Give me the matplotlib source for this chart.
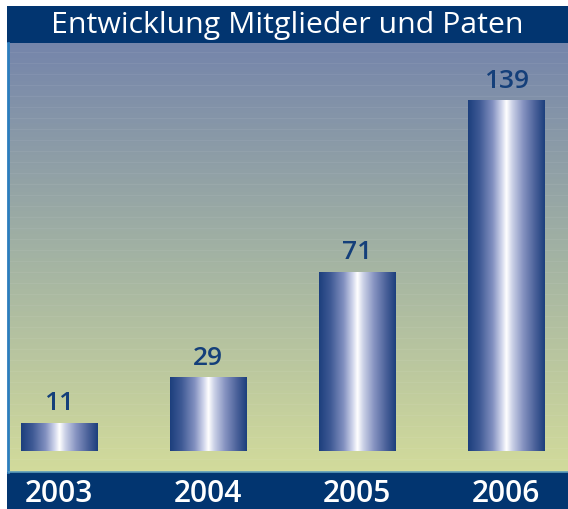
import matplotlib.pyplot as plt
import numpy as np
from matplotlib.colors import LinearSegmentedColormap
from matplotlib.patches import Rectangle
from matplotlib.transforms import blended_transform_factory

years = ['2003', '2004', '2005', '2006']
members = [11, 29, 71, 139]
title = 'Entwicklung Mitglieder und Paten'

navy = '#023570'
label_blue = '#143f7a'

plt.rcParams['font.family'] = ['Open Sans', 'DejaVu Sans']

W, H = 568, 510
fig = plt.figure(figsize=(W / 100, H / 100), dpi=100)
fig.patch.set_facecolor('white')

# title band and bottom band (pixel boxes converted to figure fractions)
fig.patches.append(Rectangle((7 / W, (H - 44) / H), 1, 37 / H, transform=fig.transFigure,
                             facecolor=navy, edgecolor='none', zorder=-1))
fig.patches.append(Rectangle((7 / W, 0), 1, 37 / H, transform=fig.transFigure,
                             facecolor=navy, edgecolor='none', zorder=-1))
fig.text((7 + W) / 2 / W, (H - 26) / H, title, color='white', fontsize=21.8,
         ha='center', va='center', fontweight='medium')

ax = fig.add_axes([9 / W, 37 / H, (W - 9) / W, (473 - 44) / H])
x = np.arange(len(years))

# background gradient, blue-grey at the top to pale olive at the bottom
bg = LinearSegmentedColormap.from_list('bg', ['#d2db9b', '#a3b3a3', '#7585ab'])
grad = np.linspace(0, 1, 256).reshape(-1, 1)
ax.imshow(grad, cmap=bg, aspect='auto', origin='lower', extent=[0, 1, 0, 1],
          transform=ax.transAxes, zorder=0)
# faint scan stripes
for yy in np.arange(0.005, 1.0, 11 / 429):
    ax.plot([0, 1], [yy, yy], transform=ax.transAxes, color='white',
            alpha=0.06, lw=0.8, zorder=0.5)

bars = ax.bar(x, members, width=0.51, color='none', zorder=2)
cyl = LinearSegmentedColormap.from_list('cyl', [
    (0.0, '#1c3f7d'), (0.15, '#3f5a95'), (0.32, '#8290c0'), (0.44, '#d2d7ec'),
    (0.50, '#ffffff'), (0.58, '#c9cfe6'), (0.72, '#8592c0'), (0.88, '#485f98'),
    (1.0, '#1c3f7d')])
hgrad = np.linspace(0, 1, 256).reshape(1, -1)
for b, v in zip(bars, members):
    ax.imshow(hgrad, cmap=cyl, aspect='auto',
              extent=[b.get_x(), b.get_x() + b.get_width(), 0, v], zorder=2)
    ax.annotate(str(v), (b.get_x() + b.get_width() / 2, v), xytext=(0, 6),
                textcoords='offset points', ha='center', va='bottom',
                fontsize=19, fontweight='semibold', color=label_blue)

# limits after imshow, which would otherwise reset them
ax.set_xlim(-0.335, 3.415)
ax.set_ylim(-8.3, 162)

ax.set_xticks(x, years)
ax.tick_params(axis='x', length=0, pad=4, labelsize=21.5, labelcolor='white')
for t in ax.get_xticklabels():
    t.set_fontweight('semibold')
ax.set_yticks([])
for s in ax.spines.values():
    s.set_visible(False)

# thin blue rule at the left edge, light rule above the bottom band
tr = blended_transform_factory(fig.transFigure, ax.transAxes)
ax.plot([8 / W, 8 / W], [0, 1], transform=tr, color='#2c7dbd', lw=2, clip_on=False, zorder=3)
ax.plot([0, 1], [0, 0], transform=ax.transAxes, color='#5b9cbb', lw=1.2,
        zorder=3, clip_on=False)

fig.savefig('out.png', dpi=100)
